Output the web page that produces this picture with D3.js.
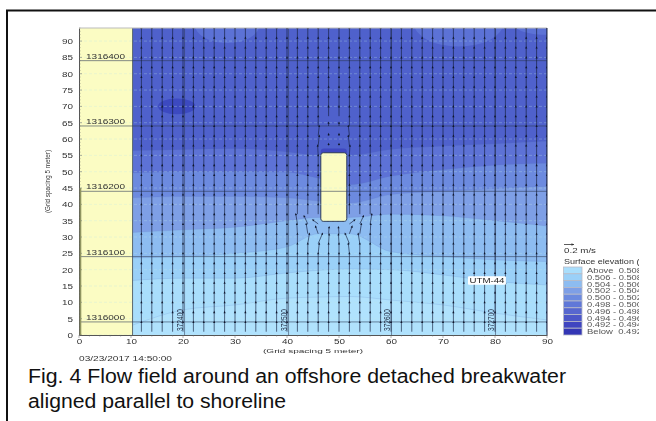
<!DOCTYPE html>
<html>
<head>
<meta charset="utf-8">
<script src="https://cdn.jsdelivr.net/npm/d3@7"></script>
<style>
  html, body { margin: 0; padding: 0; background: #fff; overflow: hidden; }
  text { font-family: "Liberation Sans", Arial, sans-serif; white-space: pre; }
</style>
</head>
<body>
<div id="chart"></div>
<script>
// ------------ DATA ------------
var xTicks = [0, 10, 20, 30, 40, 50, 60, 70, 80, 90];
var yTicks = [0, 5, 10, 15, 20, 25, 30, 35, 40, 45, 50, 55, 60, 65, 70, 75, 80, 85, 90];
var minorX = d3.range(0, 91, 2);
var minorY = d3.range(0, 95, 1);

// contour boundaries: grid y at each contourX, low (light) to high (dark)
var contourX = [10.3, 20, 30, 40, 46, 52, 60, 70, 80, 90];
var boundary1 = [3, 7.7, 9.2, 11.3, 11.6, 11.8, 10.7, 9.2, 6.7, 4.6];
var boundary2 = [16.7, 17.4, 17.4, 19, 19.8, 20.2, 20, 18.4, 16.4, 15.3];
var boundary3 = [23.6, 24, 25, 27, 31, 31, 25.5, 24, 23, 22.5];
var boundary4 = [31.4, 32.2, 33, 35, 36, 36, 37, 36.5, 35, 33.4];
var boundary5 = [42, 42.4, 42.4, 42, 41, 40.4, 43, 44, 44.8, 45.5];
var boundary6 = [49.6, 50, 50, 49.8, 48, 46, 48.6, 50.6, 52, 52.6];
var boundary7 = [56.4, 56.7, 57, 56, 55, 55, 56.8, 57.8, 58.5, 59.3];
var boundaries = [boundary1, boundary2, boundary3, boundary4, boundary5, boundary6, boundary7];
var bandColors = ["#a9defc", "#9ad0f8", "#8dbcf1", "#7e9fe6", "#6c8adf", "#5d72d6", "#4f61cc"];

// local high and low patches: cx, cy, rx, ry
var highPatches = [[28.5, 95, 6.2, 5.6], [73, 95.5, 8.6, 7.2], [90, 94.5, 6, 2.6]];
var lowPatch = [18.8, 70, 3.6, 2.4];

// legend
var legendLabels = ["Above  0.508", "0.506 - 0.508", "0.504 - 0.506", "0.502 - 0.504", "0.500 - 0.502",
  "0.498 - 0.500", "0.496 - 0.498", "0.494 - 0.496", "0.492 - 0.494", "Below  0.492"];
var legendColors = ["#a9defc", "#9ad0f8", "#8dbcf1", "#7e9fe6", "#6c8adf",
  "#6078d8", "#5767cf", "#4c57c8", "#3f45c0", "#3336b5"];

// UTM grid lines
var northing = [[84, "1316400"], [64, "1316300"], [44, "1316200"], [24, "1316100"], [4, "1316000"]];
var easting = [[20.3, "372400"], [40.3, "372500"], [60.1, "372600"], [80.1, "372700"]];

// flow vectors
var vectorColumns = [12, 14, 16, 18, 20, 22, 24, 26, 28, 30, 32, 34, 36, 38, 40, 42, 44, 46, 48, 50, 52, 54, 56, 58, 60,
  62, 64, 66, 68, 70, 72, 74, 76, 78, 80, 82, 84, 86, 88, 90];
var vectorRows = [1, 4, 7, 10, 13, 16, 19, 22, 25, 28, 31, 34, 37, 40, 43, 46, 49, 52, 55, 58, 61, 64, 67, 70, 73, 76,
  79, 82, 85, 88, 91];
// vectors that differ from the plain northward flow: x, y, u, v
var vectorChanges = [
  [42, 31, -0.1, 3], [42, 34, -0.3, 3], [44, 28, 0.3, 3], [44, 31, -0.3, 3], [44, 34, -0.7, 2.4],
  [46, 25, 0.2, 3], [46, 28, 0.8, 3], [46, 31, -0.5, 2.2], [46, 34, -1, 1.2],
  [48, 28, 0.1, 2.8], [48, 31, 0.1, 2], [50, 28, -0.1, 2.8], [50, 31, -0.1, 2],
  [52, 25, -0.2, 3], [52, 28, -0.8, 3], [52, 31, 0.5, 2.2], [52, 34, 1, 1.2],
  [54, 28, -0.3, 3], [54, 31, 0.3, 3], [54, 34, 0.7, 2.4], [56, 31, 0.1, 3], [56, 34, 0.3, 3],
  [46, 55, -0.1, 3], [46, 58, 0.2, 3], [46, 61, 0.2, 3], [52, 55, 0.1, 3], [52, 58, -0.2, 3], [52, 61, -0.2, 3],
  [48, 58, 0, 0.5], [48, 61, 0, 0.5], [48, 64, 0, 1], [50, 58, 0, 0.5], [50, 61, 0, 0.5], [50, 64, 0, 1]
];
var breakwater = { x0: 46.5, x1: 51.5, y0: 34.8, y1: 55.8 };
var landEdge = 10.3;

// ------------ CHART FORMATTING ------------
var svgWidth = 656;
var svgHeight = 421;
var margin = { top: 28, right: 109, bottom: 86, left: 79 };
var chartWidth = svgWidth - margin.left - margin.right;
var chartHeight = svgHeight - margin.top - margin.bottom;

var svg = d3.select("#chart").append("svg")
  .attr("width", svgWidth)
  .attr("height", svgHeight)
  .style("display", "block");

// outer frame
svg.append("path")
  .attr("d", "M7,421V10.5H656")
  .attr("fill", "none")
  .attr("stroke", "#111")
  .attr("stroke-width", 2);

var blurred = svg.append("g").style("filter", "blur(0.5px)");
var chart = blurred.append("g")
  .attr("transform", "translate(" + margin.left + "," + margin.top + ")");

var x = d3.scaleLinear().domain([0, 90]).range([0, chartWidth]);
var y = d3.scaleLinear().domain([0, 94]).range([chartHeight, 0]);

chart.append("clipPath").attr("id", "plotClip").append("rect")
  .attr("width", chartWidth).attr("height", chartHeight);
var plot = chart.append("g").attr("clip-path", "url(#plotClip)");

// ------------ CONTOUR BANDS ------------
plot.append("rect")
  .attr("x", x(landEdge)).attr("width", x(90) - x(landEdge))
  .attr("height", chartHeight)
  .attr("fill", "#b0e2fd");

var bandArea = d3.area()
  .x(function(d, i) { return x(contourX[i]); })
  .y0(0)
  .y1(function(d) { return y(d); })
  .curve(d3.curveMonotoneX);

boundaries.forEach(function(b, i) {
  plot.append("path")
    .attr("d", bandArea(b))
    .attr("fill", bandColors[i])
    .attr("stroke", "#5f7cc0")
    .attr("stroke-opacity", 0.35)
    .attr("stroke-width", 0.5);
});

plot.selectAll(".high")
  .data(highPatches)
  .enter().append("ellipse")
  .attr("cx", function(d) { return x(d[0]); })
  .attr("cy", function(d) { return y(d[1]); })
  .attr("rx", function(d) { return x(d[2]); })
  .attr("ry", function(d) { return chartHeight - y(d[3]); })
  .attr("fill", "#5c72d6");

plot.append("ellipse")
  .attr("cx", x(lowPatch[0]))
  .attr("cy", y(lowPatch[1]))
  .attr("rx", x(lowPatch[2]))
  .attr("ry", chartHeight - y(lowPatch[3]))
  .attr("fill", "#3c49c0");

// ------------ LAND AND BREAKWATER ------------
plot.append("rect")
  .attr("width", x(landEdge)).attr("height", chartHeight)
  .attr("fill", "#fbfcc3");
plot.append("line")
  .attr("x1", x(landEdge)).attr("x2", x(landEdge))
  .attr("y1", 0).attr("y2", chartHeight)
  .attr("stroke", "#5e6a70").attr("stroke-width", 1);

// dark blue cap on the sheltered side
plot.append("rect")
  .attr("x", x(breakwater.x0))
  .attr("y", y(breakwater.y1 + 1.3))
  .attr("width", x(breakwater.x1) - x(breakwater.x0))
  .attr("height", 10)
  .attr("rx", 3)
  .attr("fill", "#3f48bf");

plot.append("rect")
  .attr("x", x(breakwater.x0))
  .attr("y", y(breakwater.y1))
  .attr("width", x(breakwater.x1) - x(breakwater.x0))
  .attr("height", y(breakwater.y0) - y(breakwater.y1))
  .attr("rx", 2.5)
  .attr("fill", "#fbfcc3")
  .attr("stroke", "#2c3a5a")
  .attr("stroke-width", 1);

// ------------ GRID ------------
// faint dashes at the tick rows
plot.selectAll(".faint")
  .data(yTicks)
  .enter().append("line")
  .attr("x1", 0).attr("x2", chartWidth)
  .attr("y1", function(d) { return y(d); })
  .attr("y2", function(d) { return y(d); })
  .attr("stroke", "#bfe9e6")
  .attr("stroke-opacity", 0.5)
  .attr("stroke-width", 0.6)
  .attr("stroke-dasharray", "3,2");

plot.selectAll(".north")
  .data(northing)
  .enter().append("line")
  .attr("x1", 0).attr("x2", chartWidth)
  .attr("y1", function(d) { return y(d[0]); })
  .attr("y2", function(d) { return y(d[0]); })
  .attr("stroke", "#2e3a55")
  .attr("stroke-opacity", 0.65)
  .attr("stroke-width", 0.9);

plot.selectAll(".east")
  .data(easting)
  .enter().append("line")
  .attr("x1", function(d) { return x(d[0]); })
  .attr("x2", function(d) { return x(d[0]); })
  .attr("y1", 0).attr("y2", chartHeight)
  .attr("stroke", "#2e3a55")
  .attr("stroke-opacity", 0.6)
  .attr("stroke-width", 0.9);

// ------------ VECTORS ------------
var vectors = [];
vectorColumns.forEach(function(cx) {
  vectorRows.forEach(function(cy) {
    var inside = cx > breakwater.x0 && cx < breakwater.x1 && cy + 3 > breakwater.y0 && cy < breakwater.y1 + 1;
    if (inside) return;
    var change = vectorChanges.find(function(c) { return c[0] === cx && c[1] === cy; });
    vectors.push(change ? change : [cx, cy, 0, 3]);
  });
});

var vectorGroup = plot.append("g");
vectorGroup.selectAll("line")
  .data(vectors)
  .enter().append("line")
  .attr("x1", function(d) { return x(d[0]); })
  .attr("y1", function(d) { return y(d[1]); })
  .attr("x2", function(d) { return x(d[0] + d[2]); })
  .attr("y2", function(d) { return y(d[1] + d[3]); })
  .attr("stroke", "#141d3c")
  .attr("stroke-width", 0.65);
vectorGroup.selectAll("path")
  .data(vectors)
  .enter().append("path")
  .attr("d", "M0,-1.3L1.1,1L-1.1,1Z")
  .attr("transform", function(d) {
    var angle = Math.atan2(x(d[2]), chartHeight - y(d[3])) * 180 / Math.PI;
    return "translate(" + x(d[0] + d[2]) + "," + y(d[1] + d[3]) + ") rotate(" + angle + ")";
  })
  .attr("fill", "#10182e");

// ------------ GRID LABELS ------------
chart.selectAll(".northLabel")
  .data(northing)
  .enter().append("text")
  .attr("x", 7)
  .attr("y", function(d) { return y(d[0]) - 2; })
  .attr("font-size", 7.5)
  .attr("textLength", 39)
  .attr("lengthAdjust", "spacingAndGlyphs")
  .attr("fill", "#333")
  .text(function(d) { return d[1]; });

chart.selectAll(".eastLabel")
  .data(easting)
  .enter().append("text")
  .attr("transform", function(d) {
    return "translate(" + (x(d[0]) - 1.8) + "," + (chartHeight - 4) + ") rotate(-90)";
  })
  .attr("font-size", 8.5)
  .attr("textLength", 22)
  .attr("lengthAdjust", "spacingAndGlyphs")
  .attr("fill", "#27324a")
  .text(function(d) { return d[1]; });

var utmBox = chart.append("g")
  .attr("transform", "translate(" + x(74.8) + "," + y(18) + ")");
utmBox.append("rect")
  .attr("width", 38).attr("height", 8.5)
  .attr("rx", 1)
  .attr("fill", "#fff");
utmBox.append("text")
  .attr("x", 19).attr("y", 7)
  .attr("text-anchor", "middle")
  .attr("font-size", 8)
  .attr("textLength", 35)
  .attr("lengthAdjust", "spacingAndGlyphs")
  .attr("fill", "#222")
  .text("UTM-44");

// ------------ AXES ------------
var bottomAxis = d3.axisBottom(x).tickValues(xTicks).tickSize(0).tickPadding(4);
var leftAxis = d3.axisLeft(y).tickValues(yTicks).tickSize(0).tickPadding(6);

var xAxisGroup = chart.append("g")
  .attr("transform", "translate(0," + chartHeight + ")")
  .call(bottomAxis);
var yAxisGroup = chart.append("g").call(leftAxis);

[xAxisGroup, yAxisGroup].forEach(function(g) {
  g.select(".domain").attr("stroke", "#555").attr("stroke-width", 1);
  g.selectAll("text")
    .attr("font-family", "Liberation Sans")
    .attr("font-size", 7.5)
    .attr("fill", "#333")
    .attr("textLength", function(d) { return d < 10 ? 5.5 : 11; })
    .attr("lengthAdjust", "spacingAndGlyphs");
});

// minor ticks point into the plot on y, out of it on x
chart.selectAll(".minorY")
  .data(minorY)
  .enter().append("line")
  .attr("x1", 0)
  .attr("x2", function(d) { return d % 5 === 0 ? 3 : 1.5; })
  .attr("y1", function(d) { return y(d); })
  .attr("y2", function(d) { return y(d); })
  .attr("stroke", "#666")
  .attr("stroke-width", 0.5);
chart.selectAll(".minorX")
  .data(minorX)
  .enter().append("line")
  .attr("y1", chartHeight)
  .attr("y2", function(d) { return d % 10 === 0 ? chartHeight + 3 : chartHeight + 1.5; })
  .attr("x1", function(d) { return x(d); })
  .attr("x2", function(d) { return x(d); })
  .attr("stroke", "#666")
  .attr("stroke-width", 0.5);

// olive double line along the shoreline edge of the grid
chart.append("line")
  .attr("x1", 1.5).attr("x2", 1.5)
  .attr("y1", y(45)).attr("y2", chartHeight)
  .attr("stroke", "#8f9460")
  .attr("stroke-width", 1.6);

// plot edges
chart.append("line")
  .attr("x1", 0).attr("x2", chartWidth)
  .attr("y1", 0).attr("y2", 0)
  .attr("stroke", "#bbb");
chart.append("line")
  .attr("x1", chartWidth).attr("x2", chartWidth)
  .attr("y1", 0).attr("y2", chartHeight)
  .attr("stroke", "#1d2748");

// ------------ LABELS ------------
blurred.append("text")
  .attr("transform", "translate(50,213) rotate(-90)")
  .attr("font-size", 6.6)
  .attr("textLength", 63)
  .attr("lengthAdjust", "spacingAndGlyphs")
  .attr("fill", "#333")
  .text("(Grid spacing 5 meter)");
blurred.append("text")
  .attr("x", 263).attr("y", 353)
  .attr("font-size", 6)
  .attr("textLength", 100)
  .attr("lengthAdjust", "spacingAndGlyphs")
  .attr("fill", "#333")
  .text("(Grid spacing 5 meter)");
blurred.append("text")
  .attr("x", 79).attr("y", 361)
  .attr("font-size", 7)
  .attr("textLength", 93)
  .attr("lengthAdjust", "spacingAndGlyphs")
  .attr("fill", "#333")
  .text("03/23/2017 14:50:00");

// ------------ LEGEND ------------
var legend = blurred.append("g");
legend.append("clipPath").attr("id", "legendClip").append("rect")
  .attr("x", 555).attr("y", 235).attr("width", 84).attr("height", 105);
var legendInner = legend.append("g").attr("clip-path", "url(#legendClip)");

legendInner.append("line")
  .attr("x1", 564).attr("x2", 574)
  .attr("y1", 244.5).attr("y2", 244.5)
  .attr("stroke", "#333").attr("stroke-width", 0.8);
legendInner.append("path")
  .attr("d", "M574,244.5l-2.5,-1.3v2.6Z")
  .attr("fill", "#333");
legendInner.append("text")
  .attr("x", 564).attr("y", 253)
  .attr("font-size", 7.5)
  .attr("textLength", 32)
  .attr("lengthAdjust", "spacingAndGlyphs")
  .attr("fill", "#333")
  .text("0.2 m/s");
legendInner.append("text")
  .attr("x", 564).attr("y", 264)
  .attr("font-size", 6.5)
  .attr("fill", "#333")
  .attr("textLength", 86)
  .attr("lengthAdjust", "spacingAndGlyphs")
  .text("Surface elevation (m)");

var legendRow = d3.scaleBand().domain(legendLabels).range([267, 335]);
legendInner.selectAll("rect.swatch")
  .data(legendLabels)
  .enter().append("rect")
  .attr("class", "swatch")
  .attr("x", 563.5)
  .attr("y", function(d) { return legendRow(d); })
  .attr("width", 18.5)
  .attr("height", legendRow.bandwidth())
  .attr("fill", function(d, i) { return legendColors[i]; })
  .attr("stroke", "#b9bcc8")
  .attr("stroke-width", 0.8);
legendInner.selectAll("text.entry")
  .data(legendLabels)
  .enter().append("text")
  .attr("class", "entry")
  .attr("x", 587)
  .attr("y", function(d) { return legendRow(d) + 6; })
  .attr("font-size", 6.5)
  .attr("textLength", 55)
  .attr("lengthAdjust", "spacingAndGlyphs")
  .attr("fill", "#555")
  .text(function(d) { return d; });

// ------------ CAPTION ------------
svg.append("text")
  .attr("x", 28).attr("y", 383)
  .attr("font-size", 19.5)
  .attr("textLength", 538)
  .attr("lengthAdjust", "spacingAndGlyphs")
  .attr("fill", "#111")
  .text("Fig. 4 Flow field around an offshore detached breakwater");
svg.append("text")
  .attr("x", 28).attr("y", 408)
  .attr("font-size", 19.5)
  .attr("textLength", 258)
  .attr("lengthAdjust", "spacingAndGlyphs")
  .attr("fill", "#111")
  .text("aligned parallel to shoreline");
</script>
</body>
</html>
